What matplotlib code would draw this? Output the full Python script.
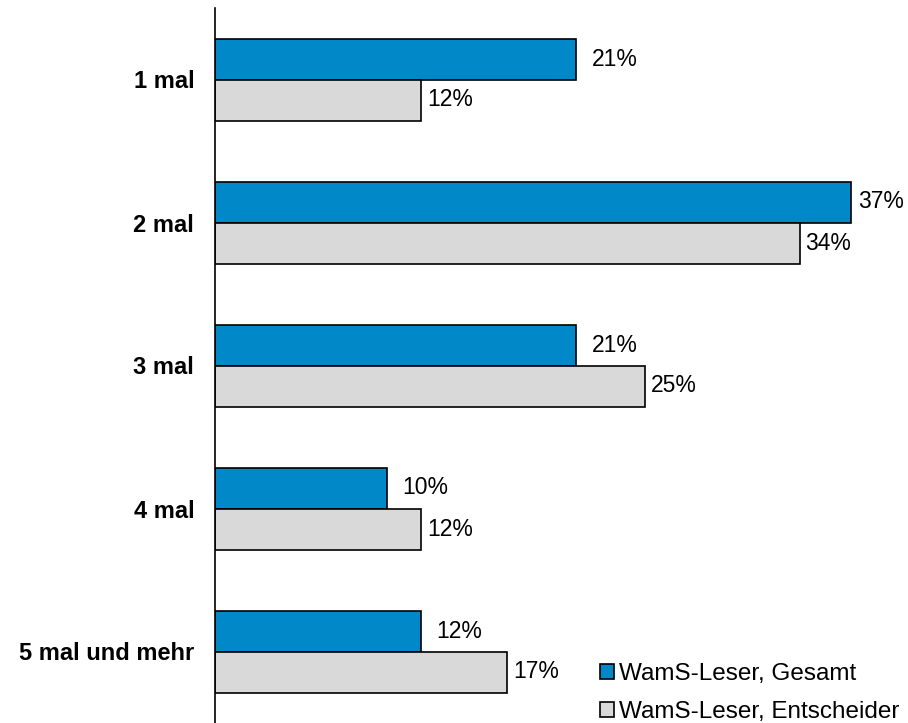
import matplotlib
matplotlib.use("Agg")
import matplotlib.pyplot as plt
import numpy as np
from matplotlib.patches import Patch

plt.rcParams['font.family'] = ['Liberation Sans', 'DejaVu Sans']

categories = ["1 mal", "2 mal", "3 mal", "4 mal", "5 mal und mehr"]
gesamt = [21, 37, 21, 10, 12]
entscheider = [12, 34, 25, 12, 17]
series_names = ["WamS-Leser, Gesamt", "WamS-Leser, Entscheider"]
colors = ["#0088C9", "#D9D9D9"]

W, H = 908, 723
fig = plt.figure(figsize=(W/100, H/100), dpi=100)
ax = fig.add_axes([215/W, 0, 688/W, 715/H])

y = np.arange(len(categories))
h = 41/143
ax.barh(y - h/2, gesamt, height=h, color=colors[0], edgecolor="black", linewidth=1.2)
ax.barh(y + h/2, entscheider, height=h, color=colors[1], edgecolor="black", linewidth=1.2)

for i, (g, e) in enumerate(zip(gesamt, entscheider)):
    off = 5 if g > 30 else 11
    ax.annotate(f"{g}%", (g, i - h/2), xytext=(off, 0), textcoords="offset points",
                va="center", ha="left", fontsize=16.5)
    ax.annotate(f"{e}%", (e, i + h/2), xytext=(4, 0), textcoords="offset points",
                va="center", ha="left", fontsize=16.5)

ax.set_xlim(0, 40)
ax.set_ylim(4.5, -0.5)
ax.set_yticks(y)
ax.set_yticklabels(categories, fontsize=17, fontweight="bold")
ax.tick_params(axis="y", length=0, pad=15)
ax.set_xticks([])
for s in ["top", "right", "bottom"]:
    ax.spines[s].set_visible(False)
ax.spines["left"].set_linewidth(1.2)

handles = [Patch(facecolor=c, edgecolor="black", linewidth=1.2) for c in colors]
fig.legend(handles, series_names, loc="lower left", bbox_to_anchor=(581/W, -0.027),
           frameon=False, fontsize=17.5, handlelength=0.55, handleheight=0.55,
           handletextpad=0.2, labelspacing=0.65, borderpad=0.3)

fig.savefig("out.png", dpi=100)
